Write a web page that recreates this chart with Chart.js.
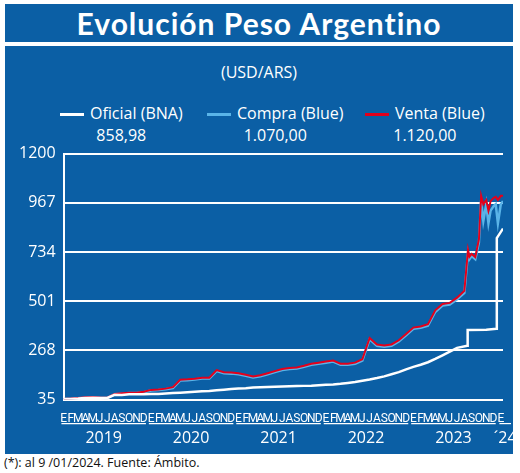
<!DOCTYPE html>
<html><head><meta charset="utf-8">
<script src="https://cdn.jsdelivr.net/npm/chart.js@4"></script>
<style>
body{margin:0;background:#fff;font-family:"Open Sans",Lato,sans-serif;width:520px;height:473px;overflow:hidden}
#title{position:absolute;left:5px;top:4px;width:508px;height:38px;background:#0b5fa5;color:#fff;font:bold 30px Lato,"Open Sans",sans-serif;text-align:center;line-height:38px;letter-spacing:1px}
#main{position:absolute;left:5px;top:46px;width:508px;height:408px;background:#0b5fa5}
#sub{position:absolute;top:15px;width:100%;text-align:center;color:#fff;font-size:16px}
.lg{position:absolute;top:56px;color:#fff;font-size:16px;text-align:center;line-height:22px}
.lg i{display:inline-block;width:24px;height:3px;vertical-align:middle;margin-right:6px}
#foot{position:absolute;left:4px;top:454px;font-size:12.5px;color:#111}
#cv{position:absolute;left:0;top:90px}
</style></head><body>
<div id="title">Evolución Peso Argentino</div>
<div id="main">
<div id="sub">(USD/ARS)</div>
<div class="lg" style="left:55px"><i style="background:#fff"></i>Oficial (BNA)<br>858,98</div>
<div class="lg" style="left:202px"><i style="background:#5ab4e8"></i>Compra (Blue)<br>1.070,00</div>
<div class="lg" style="left:360px"><i style="background:#e3001b"></i>Venta (Blue)<br>1.120,00</div>
<canvas id="cv" width="508" height="318"></canvas>
</div>
<div id="foot">(*): al 9 /01/2024. Fuente: Ámbito.</div>
<script>
const monthLetters=["E","F","M","A","M","J","J","A","S","O","N","D"];
const years=["2019","2020","2021","2022","2023","´24"];
const yTicks=[35,268,501,734,967,1200];
const ofMonths=[0,1,2,3,4,5,6,7,8,9,10,11,12,13,14,15,16,17,18,19,20,21,22,23,24,25,26,27,28,29,30,31,32,33,34,35,36,37,38,39,40,41,42,43,44,45,46,47,48,49,50,51,52,53,54,55.4,55.45,58,59.4,59.45,60.3];
const oficial=[38,38,40,43,44,42,43,58,57,60,60,60,61,62,64,66,68,70,72,74,76,79,82,85,87,89,92,94,95,96,97,98,99,100,101,103,105,107,110,114,118,124,130,137,145,155,165,178,190,200,212,228,245,262,280,290,365,366,370,800,845];
const blueMonths=[0,1,2,3,4,5,6,7,8,9,10,11,12,13,14,15,16,17,18,19,20,21,22,23,24,25,26,27,28,29,30,31,32,33,34,35,36,37,38,39,40,41,42,43,44,45,46,47,48,49,50,51,52,53,54,55,55.5,55.7,56,56.5,57,57.3,57.6,58,58.3,58.6,59,59.3,59.6,60,60.3];
const compra=[37,39,42,45,46,44,43,60,63,66,66,70,78,80,84,90,125,127,130,135,135,170,160,158,155,148,140,145,155,165,175,180,182,190,200,205,210,215,200,200,205,220,320,290,285,290,310,340,370,375,385,450,480,485,510,540,730,700,715,700,780,980,880,960,870,930,950,960,870,960,975];
const venta=[38,40,43,46,47,45,44,62,65,68,68,72,81,83,87,94,129,131,134,139,139,175,165,163,160,153,145,150,160,170,180,185,187,195,205,210,215,220,205,205,210,226,327,296,291,296,316,346,376,381,392,458,488,493,518,550,745,712,725,710,795,1000,960,980,930,975,990,995,980,1000,1000];
const pts=(xs,ys)=>xs.map((x,i)=>({x,y:ys[i]}));
const yearPlugin={id:'yr',afterDraw(c){const x=c.scales.x,ctx=c.ctx;const top=c.chartArea.bottom+24;ctx.save();ctx.strokeStyle='#fff';ctx.lineWidth=1.2;ctx.fillStyle='#fff';ctx.font='16px "Open Sans",sans-serif';ctx.textAlign='center';
for(let i=0;i<6;i++){let a=x.getPixelForValue(i*12-0.3),b=x.getPixelForValue(i*12+11.3);if(i===5){a=x.getPixelForValue(59.8);b=c.chartArea.right+8;}ctx.beginPath();ctx.moveTo(a,top);ctx.lineTo(b,top);ctx.stroke();ctx.fillText(years[i],(a+b)/2,top+19);}ctx.restore();}};
new Chart(document.getElementById('cv'),{type:'line',
data:{datasets:[
{data:pts(ofMonths,oficial),borderColor:'#fff',borderWidth:2.5,pointRadius:0,tension:0},
{data:pts(blueMonths,venta),borderColor:'#e3001b',borderWidth:2,pointRadius:0,tension:0},
{data:pts(blueMonths,compra),borderColor:'#5ab4e8',borderWidth:2.5,pointRadius:0,tension:0}]},
options:{animation:false,responsive:false,plugins:{legend:{display:false},tooltip:{enabled:false}},
layout:{padding:{left:6,right:10,top:8,bottom:24}},
scales:{x:{type:'linear',min:0,max:60.3,afterBuildTicks(s){s.ticks=[];for(let i=0;i<=60;i++)s.ticks.push({value:i});},
ticks:{autoSkip:false,maxRotation:0,color:'#fff',padding:4,font:{family:'"Liberation Sans Narrow","Roboto",sans-serif',size:12},callback:v=>monthLetters[v%12]},
grid:{display:false},border:{display:false}},
y:{min:35,max:1200,afterBuildTicks(s){s.ticks=yTicks.map(v=>({value:v}));},
ticks:{color:'#fff',font:{family:'"Open Sans",sans-serif',size:16},padding:8,callback:v=>String(v)},
grid:{color:'#fff',lineWidth:2,drawTicks:false},border:{display:true,color:'#fff',width:2}}}},
plugins:[yearPlugin]});
</script></body></html>
